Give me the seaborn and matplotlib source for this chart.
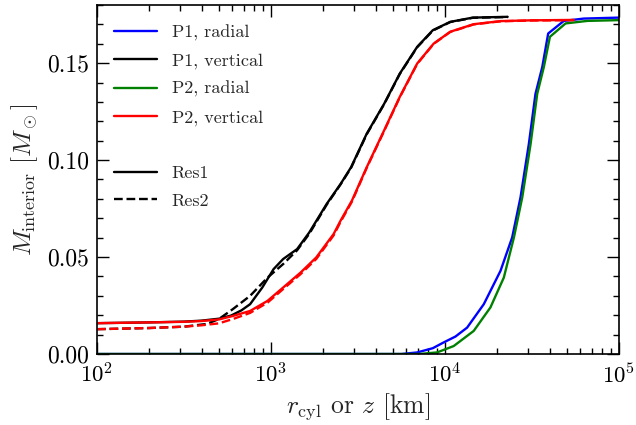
import numpy as np
import pandas as pd
import matplotlib
matplotlib.use('Agg')
import matplotlib.pyplot as plt
from matplotlib.lines import Line2D
from matplotlib.ticker import MultipleLocator, FormatStrFormatter, LogLocator
import seaborn as sns

sns.set_style('ticks')
plt.rcParams['font.family'] = ['cmr10', 'DejaVu Serif']
plt.rcParams['mathtext.fontset'] = 'cm'
plt.rcParams['axes.formatter.use_mathtext'] = True
plt.rcParams['axes.unicode_minus'] = False

# log10(r [km]) and interior mass [M_sun]
p1_vert_res1_logx = [2.0, 2.3, 2.5, 2.6, 2.7, 2.77, 2.83, 2.88, 2.95, 3.015, 3.07, 3.15,
                     3.22, 3.32, 3.40, 3.46, 3.55, 3.65, 3.74, 3.84, 3.93, 4.03, 4.16, 4.36]
p1_vert_res1_m = [0.0159, 0.0163, 0.0167, 0.0172, 0.0182, 0.0198, 0.0225, 0.0257, 0.0343,
                  0.0438, 0.0490, 0.0541, 0.0627, 0.0774, 0.0877, 0.0963, 0.1136, 0.1290,
                  0.1446, 0.1584, 0.1670, 0.1713, 0.1735, 0.1739]

p1_vert_res2_logx = [2.0, 2.3, 2.5, 2.63, 2.70, 2.78, 2.88, 2.98, 3.07, 3.15, 3.22, 3.32,
                     3.40, 3.46, 3.55, 3.65, 3.74, 3.84, 3.93, 4.03, 4.16, 4.36]
p1_vert_res2_m = [0.0128, 0.0134, 0.0141, 0.0155, 0.0180, 0.0231, 0.0300, 0.0394, 0.0464,
                  0.0535, 0.0620, 0.0770, 0.0875, 0.0960, 0.1133, 0.1288, 0.1444, 0.1582,
                  0.1668, 0.1712, 0.1734, 0.1738]

p2_vert_logx = [2.0, 2.3, 2.5, 2.6, 2.7, 2.78, 2.88, 2.98, 3.07, 3.17, 3.26, 3.36, 3.40,
                3.465, 3.55, 3.65, 3.74, 3.84, 3.935, 4.03, 4.165, 4.32, 4.5, 4.74]
p2_vert_res1_m = [0.0159, 0.0163, 0.0166, 0.0170, 0.0178, 0.0196, 0.0222, 0.0274, 0.0343,
                  0.0420, 0.0498, 0.0619, 0.0688, 0.0791, 0.0963, 0.1153, 0.1326, 0.1498,
                  0.1601, 0.1662, 0.1701, 0.1717, 0.1721, 0.1723]
p2_vert_res2_m = [0.0128, 0.0134, 0.0141, 0.0148, 0.0158, 0.0180, 0.0212, 0.0265, 0.0335,
                  0.0412, 0.0490, 0.0612, 0.0682, 0.0786, 0.0960, 0.1150, 0.1324, 0.1496,
                  0.1600, 0.1661, 0.1700, 0.1716, 0.1720, 0.1722]

p1_rad_logx = [2.0, 3.0, 3.75, 3.84, 3.93, 3.993, 4.06, 4.127, 4.223, 4.319, 4.386, 4.434,
               4.482, 4.52, 4.559, 4.593, 4.683, 4.798, 5.0]
p1_rad_m = [0.0, 0.0, 0.0, 0.0008, 0.003, 0.006, 0.009, 0.0136, 0.0257, 0.0429, 0.0601,
            0.0808, 0.1084, 0.1342, 0.1480, 0.1653, 0.1718, 0.1730, 0.1735]

p2_rad_logx = [2.0, 3.0, 3.85, 3.954, 4.05, 4.165, 4.261, 4.338, 4.396, 4.444, 4.492,
               4.53, 4.568, 4.603, 4.693, 4.818, 5.0]
p2_rad_m = [0.0, 0.0, 0.0, 0.0008, 0.0041, 0.0119, 0.0240, 0.0394, 0.0601, 0.0808, 0.1084,
            0.1342, 0.1480, 0.1636, 0.1705, 0.1718, 0.1722]

series = [
    ('P1, radial', p1_rad_logx, p1_rad_m, 'blue', '-'),
    ('P1, vertical', p1_vert_res2_logx, p1_vert_res2_m, 'black', '--'),
    ('P1, vertical', p1_vert_res1_logx, p1_vert_res1_m, 'black', '-'),
    ('P2, radial', p2_rad_logx, p2_rad_m, 'green', '-'),
    ('P2, vertical', p2_vert_logx, p2_vert_res2_m, 'red', '--'),
    ('P2, vertical', p2_vert_logx, p2_vert_res1_m, 'red', '-'),
]

fig = plt.figure(figsize=(6.36, 4.25), dpi=100)
ax = fig.add_axes([97 / 636, 1 - 354 / 425, 522 / 636, 349 / 425])

for name, lx, m, col, ls in series:
    df = pd.DataFrame({'r': 10 ** np.array(lx), 'm': m})
    sns.lineplot(data=df, x='r', y='m', color=col, linestyle=ls, lw=1.7, ax=ax,
                 legend=False, estimator=None)

ax.set_xscale('log')
ax.set_xlim(1e2, 1e5)
ax.set_ylim(0, 0.18)
ax.yaxis.set_major_locator(MultipleLocator(0.05))
ax.yaxis.set_minor_locator(MultipleLocator(0.01))
ax.yaxis.set_major_formatter(FormatStrFormatter('%.2f'))
ax.xaxis.set_minor_locator(LogLocator(base=10, subs=np.arange(2, 10)))

ax.tick_params(which='both', direction='in', top=True, right=True, width=1.0,
               colors='black')
ax.tick_params(axis='y', labelsize=17)
ax.tick_params(axis='x', labelsize=16.5)
ax.tick_params(which='major', length=8.5, pad=6)
ax.tick_params(which='minor', length=4)
for sp in ax.spines.values():
    sp.set_linewidth(1.2)
    sp.set_color('black')

ax.set_xlabel(r'$r_{\rm cyl}$ or $z$ [km]', fontsize=18.5, labelpad=3)
ax.set_ylabel(r'$M_{\rm interior}\ [M_\odot]$', fontsize=18.5, labelpad=5)

handles = [
    Line2D([], [], color='blue', lw=1.7),
    Line2D([], [], color='black', lw=1.7),
    Line2D([], [], color='green', lw=1.7),
    Line2D([], [], color='red', lw=1.7),
    Line2D([], [], color='none'),
    Line2D([], [], color='black', lw=1.7, ls='-'),
    Line2D([], [], color='black', lw=1.7, ls='--'),
]
labels = ['P1, radial', 'P1, vertical', 'P2, radial', 'P2, vertical', '', 'Res1', 'Res2']
ax.legend(handles, labels, loc='upper left', bbox_to_anchor=(0.032, 0.944),
          frameon=False, fontsize=13, handlelength=2.38, handletextpad=0.83,
          labelspacing=0.67, borderaxespad=0, borderpad=0)

fig.savefig('out.png', dpi=100)
